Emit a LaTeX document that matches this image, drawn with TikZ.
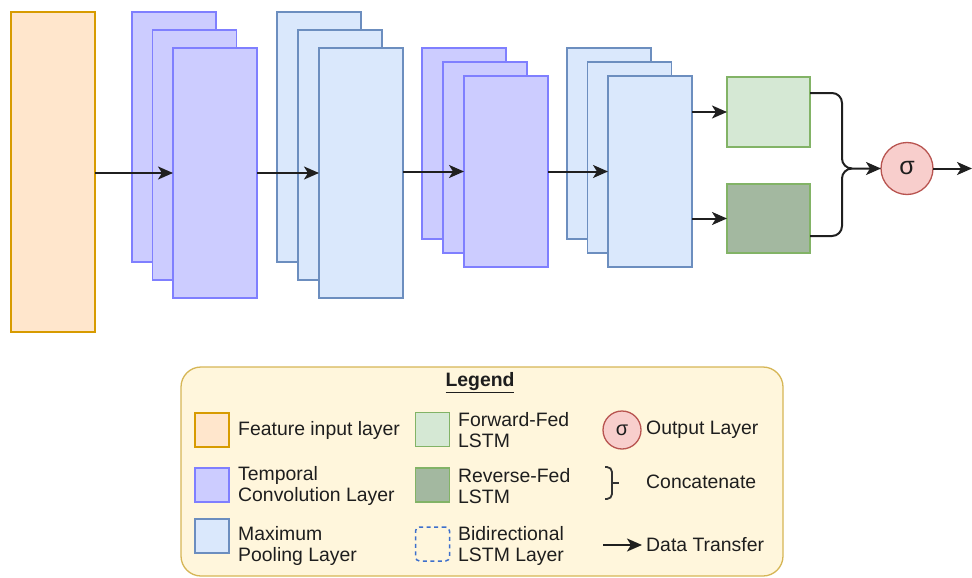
\documentclass[tikz,border=0pt]{standalone}
\usepackage{fontspec}
\setmainfont{Liberation Sans}
\usetikzlibrary{arrows.meta}
\definecolor{inF}{HTML}{FFE6CC}
\definecolor{inD}{HTML}{D79B00}
\definecolor{convF}{HTML}{CCCCFF}
\definecolor{convD}{HTML}{7F7FFF}
\definecolor{poolF}{HTML}{DAE8FC}
\definecolor{poolD}{HTML}{6C8EBF}
\definecolor{fwdF}{HTML}{D5E8D4}
\definecolor{revF}{HTML}{A3B8A0}
\definecolor{lstmD}{HTML}{82B366}
\definecolor{sigF}{HTML}{F8CECC}
\definecolor{sigD}{HTML}{B85450}
\definecolor{legF}{HTML}{FFF6DC}
\definecolor{legD}{HTML}{D6B656}
\definecolor{biD}{HTML}{3D6FCC}
\definecolor{txt}{HTML}{1E1E1E}
\begin{document}
\begin{tikzpicture}[x=1pt,y=-1pt,
  box/.style={draw, line width=1.3pt, inner sep=0pt, outer sep=0pt, minimum width=84pt},
  inbox/.style={box, fill=inF, draw=inD},
  convbox/.style={box, fill=convF, draw=convD},
  poolbox/.style={box, fill=poolF, draw=poolD},
  fwdbox/.style={box, fill=fwdF, draw=lstmD, minimum width=83pt},
  revbox/.style={box, fill=revF, draw=lstmD, minimum width=83pt},
  sigbox/.style={circle, draw=sigD, fill=sigF, line width=1.3pt, inner sep=0pt, outer sep=0pt, text=txt},
  arr/.style={-{Stealth[length=15pt,width=13pt,inset=4pt]}, line width=2pt, black!88},
  lbl/.style={anchor=west, inner sep=0pt, font=\fontsize{19.4}{21}\selectfont, align=left, text=txt},
  sq/.style={minimum width=34pt, minimum height=34pt}
]
\useasboundingbox (0,0) rectangle (972,578);

% input layer
\node[inbox, minimum height=320pt] (inp) at (53,172) {};
% conv stack 1
\node[convbox, minimum height=250pt] (c1a) at (174,137) {};
\node[convbox, minimum height=250pt] (c1b) at (194.5,155) {};
\node[convbox, minimum height=250pt] (c1c) at (215,173) {};
% pool stack 1
\node[poolbox, minimum height=250pt] (p1a) at (319,137) {};
\node[poolbox, minimum height=250pt] (p1b) at (340,155) {};
\node[poolbox, minimum height=250pt] (p1c) at (361,173) {};
% conv stack 2
\node[convbox, minimum height=191pt] (c2a) at (464,143.5) {};
\node[convbox, minimum height=191pt] (c2b) at (485,157.5) {};
\node[convbox, minimum height=191pt] (c2c) at (506,171.5) {};
% pool stack 2
\node[poolbox, minimum height=191pt] (p2a) at (609,143.5) {};
\node[poolbox, minimum height=191pt] (p2b) at (629.5,157.5) {};
\node[poolbox, minimum height=191pt] (p2c) at (650,171.5) {};
% LSTMs
\node[fwdbox, minimum height=70pt] (fwd) at (768.5,112) {};
\node[revbox, minimum height=69pt] (rev) at (768.5,218.5) {};
% output
\node[sigbox, minimum size=52pt, font=\fontsize{25}{27}\selectfont] (sig) at (907,168.5) {σ};
\coordinate (out) at (972,168.5);
\coordinate (fwdo) at (810,93);
\coordinate (revo) at (810,236);
\coordinate (join) at (842,168.5);

% data transfer arrows
\draw[arr] (inp.east |- c1c.west) -- (c1c.west);
\draw[arr] (c1c.east) -- (p1c.west);
\draw[arr] (p1c.east |- c2c.west) -- (c2c.west);
\draw[arr] (c2c.east) -- (p2c.west);
\draw[arr] (p2c.east |- fwd.west) -- (fwd.west);
\draw[arr] (p2c.east |- rev.west) -- (rev.west);
% concatenate
\draw[arr, rounded corners=10pt] (fwdo) -| (join) -- (sig.west);
\draw[line width=2pt, black!88, rounded corners=10pt] (revo) -| (join) -- ++(10,0);
\draw[arr] (sig.east) -- (out);

% legend
\node[draw=legD, fill=legF, line width=1.3pt, rounded corners=20pt, minimum width=602pt, minimum height=209pt, inner sep=0pt] (leg) at (482,471.5) {};
\node[inner sep=0pt, font=\fontsize{19.4}{21}\selectfont\bfseries, text=txt] (legt) at (480,383) {\underline{Legend}};

\node[inbox, sq] (l1) at (212,430) {};
\node[convbox, sq] (l2) at (212,485) {};
\node[poolbox, sq] (l3) at (212,536) {};
\node[fwdbox, sq] (l4) at (432.5,429.5) {};
\node[revbox, sq] (l5) at (432.5,485) {};
\node[draw=biD, dashed, dash pattern=on 4pt off 3.5pt, line width=1.5pt, rounded corners=4pt, sq, inner sep=0pt] (l6) at (432.5,544) {};
\node[sigbox, minimum size=38pt, font=\fontsize{20}{22}\selectfont] (l7) at (622,430) {σ};
\coordinate (b1) at (605,467);
\coordinate (b2) at (612,483);
\coordinate (b3) at (605,499);
\coordinate (b4) at (619,483);
\draw[line width=1.8pt, black!80, rounded corners=5pt] (b1) -| (b2) |- (b3);
\draw[line width=1.8pt, black!80] (b2) -- (b4);
\coordinate (a1) at (603,545);
\coordinate (a2) at (642,545);
\draw[arr] (a1) -- (a2);

\node[lbl] (t1) at (238,430) {Feature input layer};
\node[lbl] (t2) at (238,486) {Temporal\\Convolution Layer};
\node[lbl] (t3) at (238,546) {Maximum\\Pooling Layer};
\node[lbl] (t4) at (458,430) {Forward-Fed\\LSTM};
\node[lbl] (t5) at (458,486) {Reverse-Fed\\LSTM};
\node[lbl] (t6) at (458,546) {Bidirectional\\LSTM Layer};
\node[lbl] (t7) at (646,430) {Output Layer};
\node[lbl] (t8) at (646,482) {Concatenate};
\node[lbl] (t9) at (646,545) {Data Transfer};
\end{tikzpicture}
\end{document}
